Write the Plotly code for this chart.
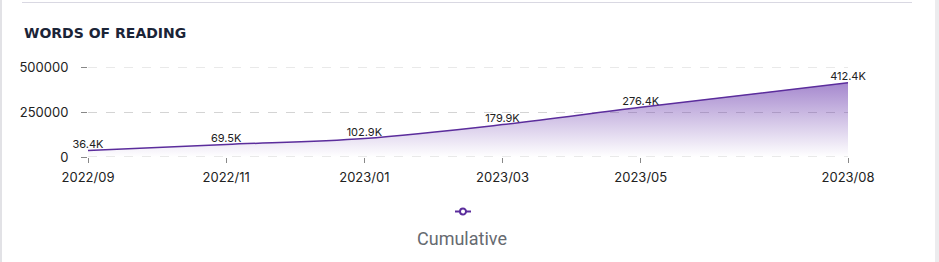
import plotly.graph_objects as go

months = ["2022/09", "2022/10", "2022/11", "2022/12", "2023/01", "2023/02",
          "2023/03", "2023/04", "2023/05", "2023/06", "2023/07", "2023/08"]
tick_labels = ["2022/09", "2022/11", "2023/01", "2023/03", "2023/05", "2023/08"]
point_months = ["2022/09", "2022/11", "2023/01", "2023/03", "2023/05", "2023/08"]
cumulative = [36400, 69500, 102900, 179900, 276400, 412400]
value_labels = ["36.4K", "69.5K", "102.9K", "179.9K", "276.4K", "412.4K"]
y_ticks = [0, 250000, 500000]

W, H = 939, 262
L, R, T, B = 88, 91, 67, 105
PW, PH = W - L - R, H - T - B


def px(x):
    return (x - L) / PW


def py(y):
    return (H - B - y) / PH


fig = go.Figure()
fig.add_trace(go.Scatter(
    x=point_months, y=cumulative, mode="lines+text", name="Cumulative",
    text=value_labels, textposition="top center",
    textfont=dict(family="Inter", size=11, color="#222222"),
    line=dict(color="#5b2d9c", width=1.5, shape="spline", smoothing=1.0),
    fill="tozeroy",
    fillgradient=dict(type="vertical", start=0, stop=max(cumulative),
                      colorscale=[[0, "rgba(100,50,170,0.0)"],
                                  [1, "rgba(100,50,170,0.58)"]]),
    showlegend=False, cliponaxis=False,
))

shapes = [
    # card decoration
    dict(type="line", xref="paper", yref="paper", x0=px(22), x1=px(912), y0=py(2.5), y1=py(2.5),
         line=dict(color="#d9d8e2", width=1)),
    dict(type="rect", xref="paper", yref="paper", x0=px(0), x1=px(2), y0=py(0), y1=py(262),
         line=dict(width=0), fillcolor="#e2e2e6"),
    dict(type="rect", xref="paper", yref="paper", x0=px(935), x1=px(939), y0=py(0), y1=py(262),
         line=dict(width=0), fillcolor="#ececee"),
    # legend symbol
    dict(type="line", xref="paper", yref="paper", x0=px(455), x1=px(471), y0=py(211.5), y1=py(211.5),
         line=dict(color="#5b2d9c", width=2)),
    dict(type="circle", xref="paper", yref="paper", x0=px(460), x1=px(466), y0=py(208.5), y1=py(214.5),
         line=dict(color="#5b2d9c", width=2), fillcolor="white"),
]
# dashed grid lines at the ends of the value axis (plotly hides edge grid lines)
for v in (y_ticks[0], y_ticks[-1]):
    shapes.append(dict(type="line", xref="paper", yref="y", x0=0, x1=1, y0=v, y1=v,
                       layer="below", line=dict(color="#d4d4d4", width=1, dash="dash")))

fig.update_layout(
    width=W, height=H, margin=dict(l=L, r=R, t=T, b=B),
    paper_bgcolor="white", plot_bgcolor="white",
    title=dict(text="<b>WORDS OF READING</b>", xref="container", yref="container",
               x=24 / W, xanchor="left", y=1 - 33 / H, yanchor="middle",
               font=dict(family="DejaVu Sans", size=14, color="#1b2437")),
    shapes=shapes,
    annotations=[dict(text="Cumulative", xref="paper", yref="paper", x=px(462), y=py(238),
                      showarrow=False, xanchor="center", yanchor="middle",
                      font=dict(family="Roboto", size=18, color="#666a70"))],
    xaxis=dict(type="category", categoryorder="array", categoryarray=months,
               range=[0, len(months) - 1], tickvals=tick_labels, ticktext=tick_labels,
               showgrid=False, zeroline=False, showline=False,
               ticks="outside", ticklen=5, tickcolor="#888888", ticklabelstandoff=3,
               tickfont=dict(family="Inter", size=13, color="#222222")),
    yaxis=dict(range=[0, 500000], tickvals=y_ticks, tickformat="d",
               showgrid=True, gridcolor="#d4d4d4", griddash="dash", gridwidth=1,
               zeroline=False, showline=False,
               ticks="outside", ticklen=6, tickcolor="#888888", ticklabelstandoff=10,
               tickfont=dict(family="Inter", size=13, color="#222222")),
)

fig.write_html("out.html")
